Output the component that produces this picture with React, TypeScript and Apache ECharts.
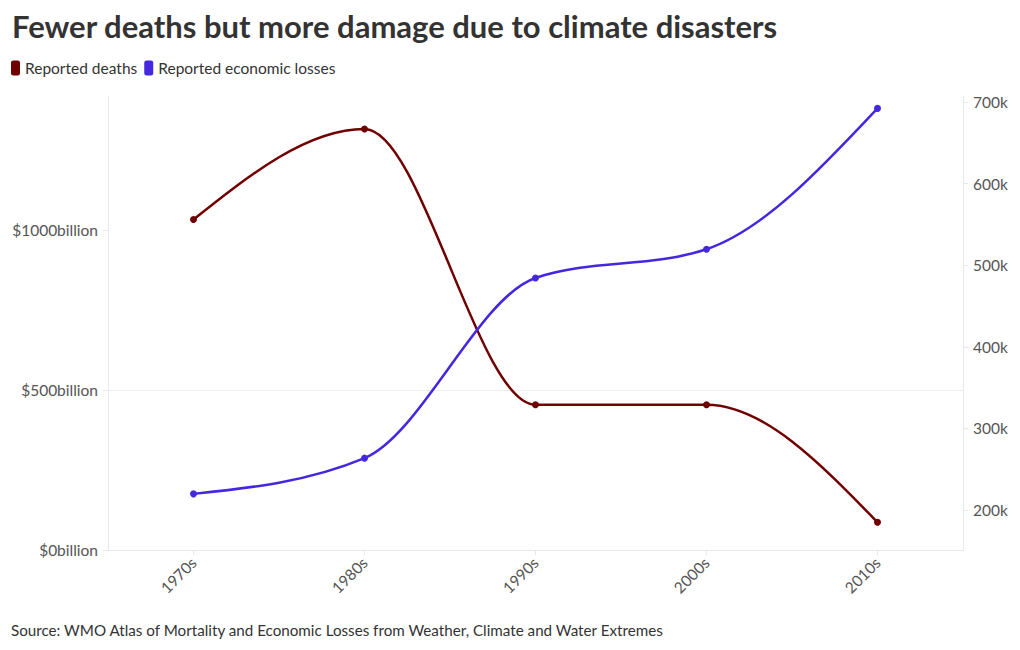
import React, { useEffect, useRef } from "react";
import * as echarts from "echarts";

const decades = ["1970s", "1980s", "1990s", "2000s", "2010s"];
const deaths = [556000, 667000, 329000, 329000, 185000];
const losses = [175.4, 287, 850, 940, 1380];
const leftTicks = [0, 500, 1000];
const rightTicks = [200000, 300000, 400000, 500000, 600000, 700000];

const FONT = "Lato, 'Noto Sans', sans-serif";
const RED = "#700000";
const BLUE = "#4527E0";

// d3 curveMonotoneX path builder in pixel space
function monotonePath(pts: number[][]): string {
  const n = pts.length;
  if (n < 2) return "";
  const sign = (x: number) => (x < 0 ? -1 : 1);
  const t: number[] = new Array(n).fill(0);
  for (let i = 1; i < n - 1; i++) {
    const [x0, y0] = pts[i - 1];
    const [x1, y1] = pts[i];
    const [x2, y2] = pts[i + 1];
    const h0 = x1 - x0;
    const h1 = x2 - x1;
    const s0 = (y1 - y0) / h0;
    const s1 = (y2 - y1) / h1;
    const p = (s0 * h1 + s1 * h0) / (h0 + h1);
    t[i] = (sign(s0) + sign(s1)) * Math.min(Math.abs(s0), Math.abs(s1), 0.5 * Math.abs(p)) || 0;
  }
  const slope2 = (a: number[], b: number[], tt: number) => {
    const h = b[0] - a[0];
    return h ? (3 * (b[1] - a[1]) / h - tt) / 2 : tt;
  };
  if (n === 2) {
    t[0] = t[1] = (pts[1][1] - pts[0][1]) / (pts[1][0] - pts[0][0]);
  } else {
    t[0] = slope2(pts[0], pts[1], t[1]);
    t[n - 1] = slope2(pts[n - 2], pts[n - 1], t[n - 2]);
  }
  let d = `M${pts[0][0]},${pts[0][1]}`;
  for (let i = 0; i < n - 1; i++) {
    const [x0, y0] = pts[i];
    const [x1, y1] = pts[i + 1];
    const dx = (x1 - x0) / 3;
    d += ` C${x0 + dx},${y0 + dx * t[i]} ${x1 - dx},${y1 - dx * t[i + 1]} ${x1},${y1}`;
  }
  return d;
}

function curveSeries(values: number[], yAxisIndex: number, color: string) {
  return {
    type: "custom",
    yAxisIndex,
    silent: true,
    z: 1,
    data: values.map((v, i) => [i, v]),
    renderItem: (params: any, api: any) => {
      if (params.dataIndex !== 0) return null;
      const pts = values.map((v, i) => api.coord([i, v]));
      return {
        type: "path",
        shape: { pathData: monotonePath(pts) },
        style: { stroke: color, lineWidth: 2.5, fill: "none" },
      };
    },
  };
}

export default function App() {
  const ref = useRef<HTMLDivElement>(null);
  useEffect(() => {
    const chart = echarts.init(ref.current!, null, { renderer: "svg" });
    chart.setOption({
      animation: false,
      backgroundColor: "#fff",
      textStyle: { fontFamily: FONT },
      title: {
        text: "Fewer deaths but more damage due to climate disasters",
        left: 7,
        top: 5,
        textStyle: { fontFamily: FONT, fontSize: 31, fontWeight: "bold", color: "#333" },
      },
      legend: {
        left: 6,
        top: 55,
        icon: "roundRect",
        itemWidth: 9,
        itemHeight: 15,
        itemGap: 7,
        textStyle: { fontFamily: FONT, fontSize: 15.5, color: "#333" },
        data: ["Reported deaths", "Reported economic losses"],
      },
      graphic: [
        {
          type: "text",
          left: 11,
          top: 622,
          style: {
            text: "Source: WMO Atlas of Mortality and Economic Losses from Weather, Climate and Water Extremes",
            font: `15.2px ${FONT}`,
            fill: "#333",
          },
        },
      ],
      grid: { left: 108, right: 57, top: 96, bottom: 100, containLabel: false },
      xAxis: {
        type: "category",
        data: decades,
        boundaryGap: true,
        axisLine: { show: true, lineStyle: { color: "#e8e8e8" } },
        axisTick: { show: true, alignWithLabel: true, length: 5, lineStyle: { color: "#e8e8e8" } },
        axisLabel: { rotate: 45, fontSize: 15.5, color: "#555", margin: 10, fontFamily: FONT },
      },
      yAxis: [
        {
          type: "value",
          position: "left",
          min: 0,
          max: 1418.75,
          interval: 500,
          axisLine: { show: true, lineStyle: { color: "#e8e8e8" } },
          axisTick: { show: true, length: 5, lineStyle: { color: "#e8e8e8" }, customValues: leftTicks },
          axisLabel: {
            fontSize: 15.5,
            color: "#555",
            margin: 10,
            fontFamily: FONT,
            customValues: leftTicks,
            formatter: (v: number) => `$${v}billion`,
          },
          splitLine: { show: true, showMaxLine: false, lineStyle: { color: "#eeeeee" } },
        },
        {
          type: "value",
          position: "right",
          min: 151000,
          max: 707400,
          axisLine: { show: true, lineStyle: { color: "#e8e8e8" } },
          axisTick: { show: true, length: 5, lineStyle: { color: "#e8e8e8" }, customValues: rightTicks },
          axisLabel: {
            fontSize: 15.5,
            color: "#555",
            margin: 10,
            fontFamily: FONT,
            customValues: rightTicks,
            formatter: (v: number) => `${Math.round(v / 1000)}k`,
          },
          splitLine: { show: false },
        },
      ],
      series: [
        curveSeries(deaths, 1, RED),
        curveSeries(losses, 0, BLUE),
        {
          name: "Reported deaths",
          type: "line",
          yAxisIndex: 1,
          data: deaths,
          symbol: "circle",
          symbolSize: 7,
          showAllSymbol: true,
          z: 3,
          color: RED,
          lineStyle: { width: 0, opacity: 0, color: RED },
          itemStyle: { color: RED },
        },
        {
          name: "Reported economic losses",
          type: "line",
          yAxisIndex: 0,
          data: losses,
          symbol: "circle",
          symbolSize: 7,
          showAllSymbol: true,
          z: 3,
          color: BLUE,
          lineStyle: { width: 0, opacity: 0, color: BLUE },
          itemStyle: { color: BLUE },
        },
      ],
    });
    return () => chart.dispose();
  }, []);
  return (
    <div
      ref={ref}
      style={{ position: "fixed", left: 0, top: 0, width: 1020, height: 650 }}
    />
  );
}
